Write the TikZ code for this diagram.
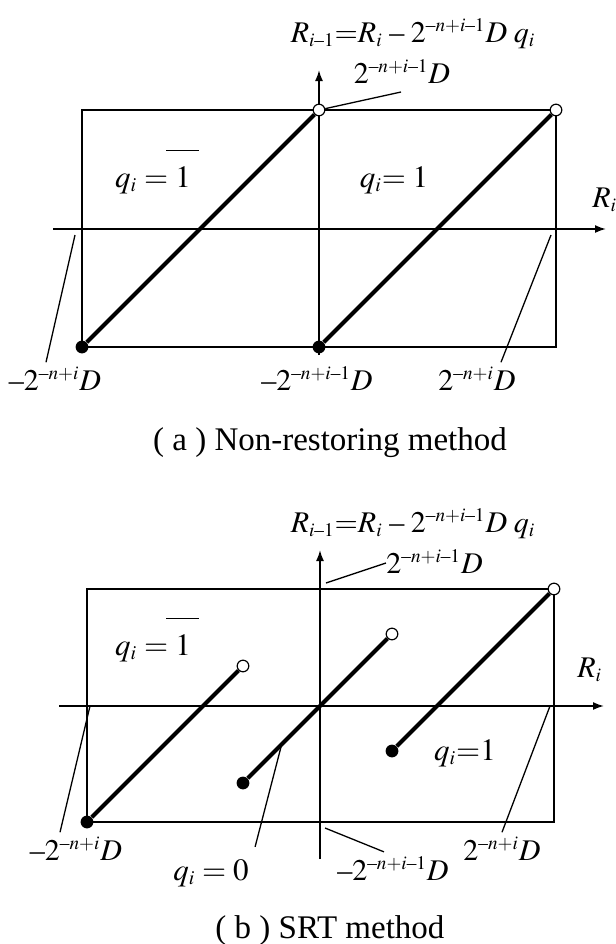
\documentclass[tikz,border=0pt]{standalone}
\usepackage{mathptmx}
\usepackage{amsmath}
\usepackage{fontspec}
\setmainfont{Liberation Serif}
\usetikzlibrary{positioning, arrows.meta, calc}
\DeclareMathSizes{15}{15}{9.6}{7}
\DeclareMathSizes{15.5}{15.5}{9.9}{7.2}

\tikzset{
    axis/.style={line width=0.85pt, -{Latex[length=5.5pt,width=4pt]}},
    frame/.style={line width=0.8pt},
    graph/.style={line width=2pt},
    leader/.style={line width=0.65pt},
    opendot/.style={circle, draw, fill=white, line width=0.6pt, inner sep=0pt, minimum size=5.8pt},
    fulldot/.style={circle, fill, inner sep=0pt, minimum size=6.4pt},
    eqn/.style={inner sep=0pt, anchor=base, font=\fontsize{15}{17}\selectfont},
    region/.style={inner sep=0pt, anchor=base, font=\fontsize{15.5}{18}\selectfont},
    caption/.style={inner sep=0pt, anchor=base, font=\fontsize{16.5}{19}\selectfont}
}
\newcommand{\dsh}{\text{–}}
\newcommand{\qneg}{$q_i = \mskip-5mu\overline{\rule{0pt}{16pt}\hspace{4.5pt}1\hspace{4pt}}$}
\newcommand{\recur}{$R_{i\dsh 1}{=}R_i\;\dsh\;2^{\dsh n+i\dsh 1}D\;q_i$}

\begin{document}
\begin{tikzpicture}[x=0.5pt, y=-0.5pt]
    \useasboundingbox (0,0) rectangle (616,944);

    % (a) non-restoring
    \draw[frame] (82,110) rectangle (556,347);
    \draw[axis] (53,229) -- (606,229);
    \draw[axis] (319,355) -- (319,70);
    \node[opendot] (oA1) at (319,110) {};
    \node[opendot] (oA2) at (556,110) {};
    \node[fulldot] (dA1) at (82,347) {};
    \node[fulldot] (dA2) at (319,347) {};
    \draw[graph] (dA1) -- (oA1);
    \draw[graph] (dA2) -- (oA2);

    \node[eqn] (recA) at (413,42) {\recur};
    \node[eqn] (hiA) at (402,83) {$2^{\dsh n+i\dsh 1}D$};
    \node[region] (qnA) at (157,187) {\qneg};
    \node[region] (qpA) at (394,187) {$q_i{=}\;1$};
    \node[eqn, anchor=base west] (riA) at (592,207) {$R_i$};
    \node[eqn] (loA) at (55,390) {$\dsh 2^{\dsh n+i}D$};
    \node[eqn] (miA) at (317,390) {$\dsh 2^{\dsh n+i\dsh 1}D$};
    \node[eqn] (upA) at (477,390) {$2^{\dsh n+i}D$};
    \node[caption] (capA) at (330,450) {( a ) Non-restoring method};

    \coordinate (tA1) at (75,235);
    \coordinate (tA2) at (551,235);
    \coordinate (tA3) at (401,92);
    \draw[leader] (oA1) -- (tA3);
    \draw[leader] (tA1) -- ([xshift=-4.5pt,yshift=2pt]loA.north);
    \draw[leader] (tA2) -- ([xshift=12pt,yshift=2pt]upA.north);

    % (b) SRT
    \draw[frame] (87,589) rectangle (554,822);
    \draw[axis] (59,706) -- (604,706);
    \draw[axis] (320,859) -- (320,550);
    \node[fulldot] (dB1) at (87,822) {};
    \node[opendot] (oB1) at (243,666) {};
    \node[fulldot] (dB2) at (243,783) {};
    \node[opendot] (oB2) at (392,634) {};
    \node[fulldot] (dB3) at (392,751) {};
    \node[opendot] (oB3) at (554,589) {};
    \draw[graph] (dB1) -- (oB1);
    \draw[graph] (dB2) -- (oB2);
    \draw[graph] (dB3) -- (oB3);

    \node[eqn] (recB) at (413,532) {\recur};
    \node[eqn, anchor=base west] (hiB) at (386,573) {$2^{\dsh n+i\dsh 1}D$};
    \node[region] (qnB) at (157,655) {\qneg};
    \node[eqn, anchor=base west] (riB) at (577,677) {$R_i$};
    \node[region] (qpB) at (465,760) {$q_i{=}1$};
    \node[eqn] (loB) at (76,860) {$\dsh 2^{\dsh n+i}D$};
    \node[region] (qzB) at (211,880) {$q_i = 0$};
    \node[eqn] (miB) at (393,880) {$\dsh 2^{\dsh n+i\dsh 1}D$};
    \node[eqn] (upB) at (502,860) {$2^{\dsh n+i}D$};
    \node[caption] (capB) at (330,938) {( b ) SRT method};

    \coordinate (tB1) at (90,706);
    \coordinate (tB2) at (550,706);
    \coordinate (tB3) at (326,583);
    \coordinate (tB4) at (281,747);
    \coordinate (tB5) at (325,828);
    \draw[leader] (tB3) -- ([yshift=5pt]hiB.base west);
    \draw[leader] (tB1) -- ([xshift=-8pt,yshift=2pt]loB.north);
    \draw[leader] (tB2) -- ([yshift=2pt]upB.north);
    \draw[leader] (tB4) -- ([xshift=3pt,yshift=6pt]qzB.north east);
    \draw[leader] (tB5) -- ([xshift=-4.5pt,yshift=2pt]miB.north);
\end{tikzpicture}
\end{document}
